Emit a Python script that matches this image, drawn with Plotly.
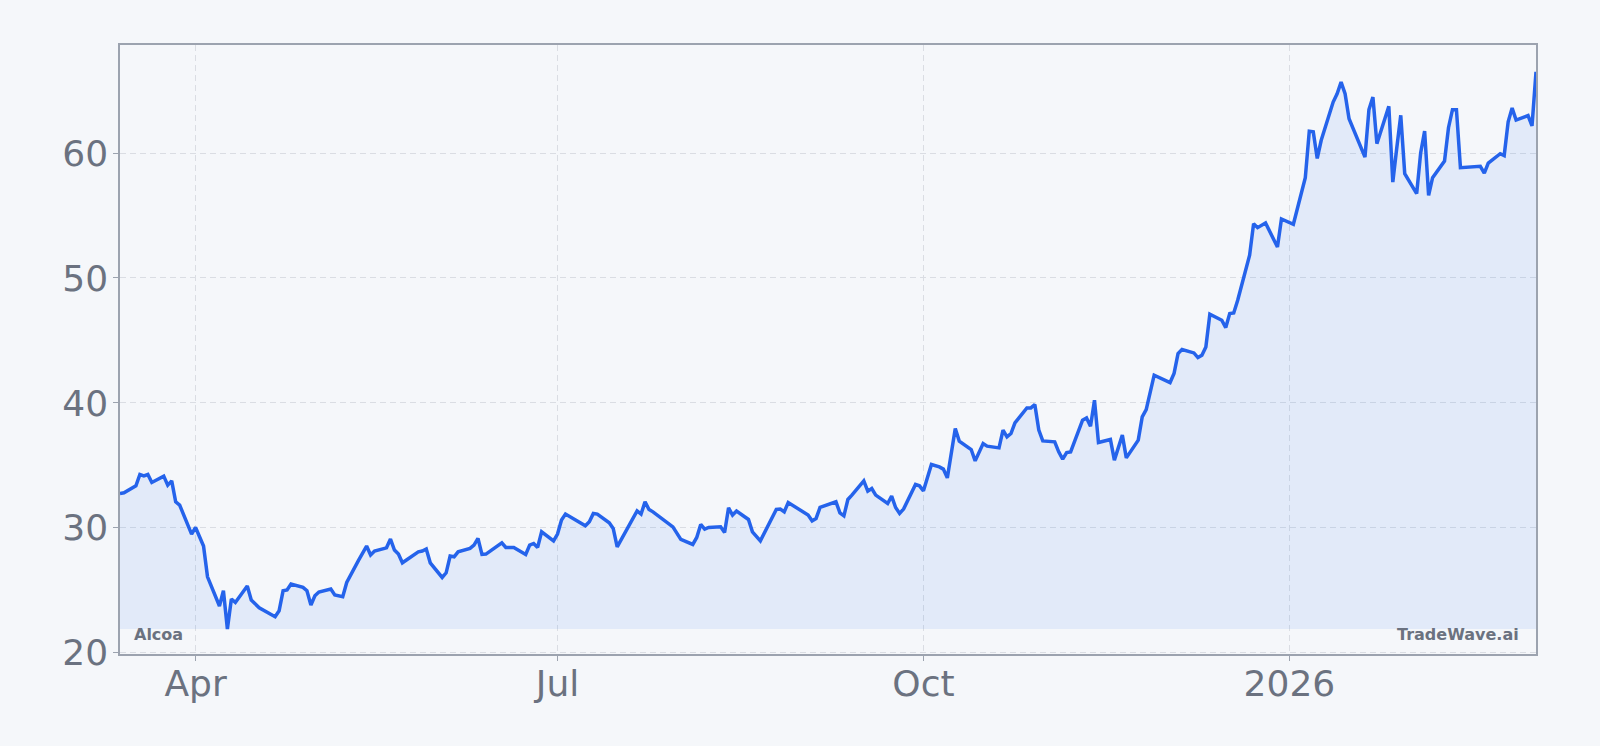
import plotly.graph_objects as go

dates = [
    "2025-03-13", "2025-03-14", "2025-03-17", "2025-03-18", "2025-03-19", "2025-03-20", "2025-03-21",
    "2025-03-24", "2025-03-25", "2025-03-26", "2025-03-27", "2025-03-28", "2025-03-31",
    "2025-04-01", "2025-04-03", "2025-04-04", "2025-04-07", "2025-04-08", "2025-04-09", "2025-04-10",
    "2025-04-11", "2025-04-14", "2025-04-15", "2025-04-17", "2025-04-21", "2025-04-22", "2025-04-23",
    "2025-04-24", "2025-04-25", "2025-04-28", "2025-04-29", "2025-04-30", "2025-05-01", "2025-05-02",
    "2025-05-05", "2025-05-06", "2025-05-08", "2025-05-09", "2025-05-12", "2025-05-14", "2025-05-15",
    "2025-05-16", "2025-05-19", "2025-05-20", "2025-05-21", "2025-05-22", "2025-05-23", "2025-05-27",
    "2025-05-28", "2025-05-29", "2025-05-30", "2025-06-02", "2025-06-03", "2025-06-04", "2025-06-05",
    "2025-06-06", "2025-06-09", "2025-06-10", "2025-06-11", "2025-06-12", "2025-06-13", "2025-06-17",
    "2025-06-18", "2025-06-20", "2025-06-23", "2025-06-24", "2025-06-25", "2025-06-26", "2025-06-27",
    "2025-06-30", "2025-07-01", "2025-07-02", "2025-07-03", "2025-07-08", "2025-07-09", "2025-07-10",
    "2025-07-11", "2025-07-14", "2025-07-15", "2025-07-16", "2025-07-21", "2025-07-22", "2025-07-23",
    "2025-07-24", "2025-07-25", "2025-07-29", "2025-07-30", "2025-08-01", "2025-08-04", "2025-08-05",
    "2025-08-06", "2025-08-07", "2025-08-08", "2025-08-11", "2025-08-12", "2025-08-13", "2025-08-14",
    "2025-08-15", "2025-08-18", "2025-08-19", "2025-08-21", "2025-08-25", "2025-08-26", "2025-08-27",
    "2025-08-28", "2025-09-02", "2025-09-03", "2025-09-04", "2025-09-05", "2025-09-09", "2025-09-10",
    "2025-09-11", "2025-09-12", "2025-09-13", "2025-09-16", "2025-09-17", "2025-09-18", "2025-09-19",
    "2025-09-22", "2025-09-23", "2025-09-24", "2025-09-25", "2025-09-26", "2025-09-29", "2025-09-30",
    "2025-10-01", "2025-10-03", "2025-10-05", "2025-10-06", "2025-10-07", "2025-10-08", "2025-10-09",
    "2025-10-10", "2025-10-13", "2025-10-14", "2025-10-16", "2025-10-17", "2025-10-20", "2025-10-21",
    "2025-10-22", "2025-10-23", "2025-10-24", "2025-10-27", "2025-10-28", "2025-10-29", "2025-10-30",
    "2025-10-31", "2025-11-03", "2025-11-04", "2025-11-05", "2025-11-06", "2025-11-07", "2025-11-10",
    "2025-11-11", "2025-11-12", "2025-11-13", "2025-11-14", "2025-11-17", "2025-11-18", "2025-11-20",
    "2025-11-21", "2025-11-24", "2025-11-25", "2025-11-26", "2025-11-28", "2025-12-02", "2025-12-03",
    "2025-12-04", "2025-12-05", "2025-12-08", "2025-12-09", "2025-12-10", "2025-12-11", "2025-12-12",
    "2025-12-15", "2025-12-16", "2025-12-17", "2025-12-18", "2025-12-19", "2025-12-22", "2025-12-23",
    "2025-12-24", "2025-12-26", "2025-12-29", "2025-12-30", "2026-01-02", "2026-01-05", "2026-01-06",
    "2026-01-07", "2026-01-08", "2026-01-09", "2026-01-12", "2026-01-13", "2026-01-14", "2026-01-15",
    "2026-01-16", "2026-01-20", "2026-01-21", "2026-01-22", "2026-01-23", "2026-01-26", "2026-01-27",
    "2026-01-28", "2026-01-29", "2026-01-30", "2026-02-02", "2026-02-03", "2026-02-04", "2026-02-05",
    "2026-02-06", "2026-02-09", "2026-02-10", "2026-02-11", "2026-02-12", "2026-02-13", "2026-02-18",
    "2026-02-19", "2026-02-20", "2026-02-23", "2026-02-24", "2026-02-25", "2026-02-26", "2026-02-27",
    "2026-03-02", "2026-03-03", "2026-03-04",
]

prices = [
    32.75, 32.8, 33.36, 34.27, 34.16, 34.27, 33.63,
    34.14, 33.42, 33.76, 32.08, 31.82, 29.5,
    30.03, 28.54, 26.08, 23.74, 24.96, 21.9, 24.3,
    24.03, 25.34, 24.22, 23.6, 22.88, 23.36, 24.96,
    25.02, 25.5, 25.23, 24.96, 23.82, 24.56, 24.86,
    25.1, 24.62, 24.48, 25.63, 27.42, 28.54, 27.82,
    28.14, 28.4, 29.1, 28.22, 27.9, 27.2, 28.08,
    28.14, 28.3, 27.2, 26.03, 26.4, 27.74, 27.68,
    28.08, 28.35, 28.62, 29.15, 27.87, 27.9, 28.8,
    28.43, 28.43, 27.87, 28.62, 28.75, 28.43, 29.68,
    28.96, 29.5, 30.62, 31.1, 30.16, 30.48, 31.15,
    31.1, 30.4, 29.95, 28.48, 31.36, 31.1, 32.08,
    31.47, 31.28, 30.3, 30.08, 29.07, 28.67, 29.23,
    30.27, 29.9, 30.03, 30.08, 29.63, 31.6, 31.02,
    31.34, 30.67, 29.68, 28.96, 31.47, 31.5, 31.28,
    32.03, 31.02, 30.56, 30.75, 31.63, 32.08, 31.2,
    30.96, 32.27, 32.62, 33.76, 32.94, 33.15, 32.62,
    31.95, 32.54, 31.63, 31.15, 31.5, 33.47, 33.36,
    32.96, 35.07, 34.88, 34.7, 34.0, 36.14, 37.95,
    36.94, 36.27, 35.36, 36.75, 36.54, 36.4, 37.82,
    37.28, 37.55, 38.4, 39.6, 39.6, 39.87, 37.82,
    36.96, 36.88, 36.08, 35.5, 36.03, 36.08, 38.62,
    38.8, 38.14, 40.22, 36.83, 37.07, 35.42, 37.42,
    35.6, 37.02, 38.88, 39.47, 42.22, 41.63, 42.35,
    43.95, 44.27, 44.0, 43.63, 43.82, 44.48, 47.1,
    46.62, 46.03, 47.15, 47.2, 48.22, 51.82, 54.35,
    54.03, 54.4, 52.48, 54.72, 54.3, 58.03, 61.74,
    61.7, 59.57, 61.02, 64.08, 64.75, 65.68, 64.75,
    62.75, 59.68, 63.47, 64.48, 60.75, 63.74, 57.68,
    60.43, 63.02, 58.35, 56.75, 60.0, 61.76, 56.62,
    58.03, 59.36, 62.03, 63.47, 63.47, 58.83, 58.94,
    58.4, 59.2, 59.95, 59.8, 62.5, 63.6, 62.64,
    63.0, 62.18, 66.5,
]

x_tick_vals = ["2025-04-01", "2025-07-01", "2025-10-01", "2026-01-01"]
x_tick_text = ["Apr", "Jul", "Oct", "2026"]
y_tick_vals = [20, 30, 40, 50, 60]

series_name = "Alcoa"
brand = "TradeWave.ai"

bg = "#f5f7fa"
line_color = "#2563eb"
axis_color = "#9ca3af"
text_color = "#6b7280"
grid_color = "#dadde3"

base = min(prices)
fig = go.Figure()
fig.add_trace(go.Scatter(
    x=dates, y=[base] * len(dates), mode="lines",
    line=dict(width=0, color="rgba(0,0,0,0)"), hoverinfo="skip", showlegend=False,
))
fig.add_trace(go.Scatter(
    x=dates, y=prices, mode="lines", name=series_name,
    line=dict(color=line_color, width=3.5),
    fill="tonexty", fillcolor="rgba(59,130,246,0.1)", showlegend=False,
))

fig.update_layout(
    width=1600, height=746,
    paper_bgcolor=bg, plot_bgcolor=bg,
    margin=dict(l=120, r=64, t=45, b=92),
    font=dict(family="DejaVu Sans", color=text_color),
    showlegend=False,
    annotations=[
        dict(text=f"<b>{series_name}</b>", x=0, y=0, xref="paper", yref="paper",
             xanchor="left", yanchor="bottom", xshift=12, yshift=8, showarrow=False,
             font=dict(size=16, color=text_color, family="DejaVu Sans")),
        dict(text=f"<b>{brand}</b>", x=1, y=0, xref="paper", yref="paper",
             xanchor="right", yanchor="bottom", xshift=-15, yshift=8, showarrow=False,
             font=dict(size=16, color=text_color, family="DejaVu Sans")),
    ],
)
fig.update_xaxes(
    type="date", range=[dates[0], dates[-1]],
    tickvals=x_tick_vals, ticktext=x_tick_text,
    tickfont=dict(size=36, color=text_color), ticklabelstandoff=-8,
    showgrid=True, gridcolor=grid_color, griddash="6px,4px", gridwidth=1,
    showline=True, linecolor=axis_color, linewidth=1.5, mirror=True,
    ticks="outside", ticklen=5, tickcolor=axis_color, zeroline=False,
)
fig.update_yaxes(
    range=[19.9, 68.65], tickvals=y_tick_vals,
    tickfont=dict(size=36, color=text_color), ticklabelstandoff=-2,
    showgrid=True, gridcolor=grid_color, griddash="6px,4px", gridwidth=1,
    showline=True, linecolor=axis_color, linewidth=1.5, mirror=True,
    ticks="outside", ticklen=5, tickcolor=axis_color, zeroline=False,
)

fig.write_html(
    "out.html",
    config={"displayModeBar": False},
    post_script="document.body.style.margin='0';document.body.style.background='%s';" % bg,
)
